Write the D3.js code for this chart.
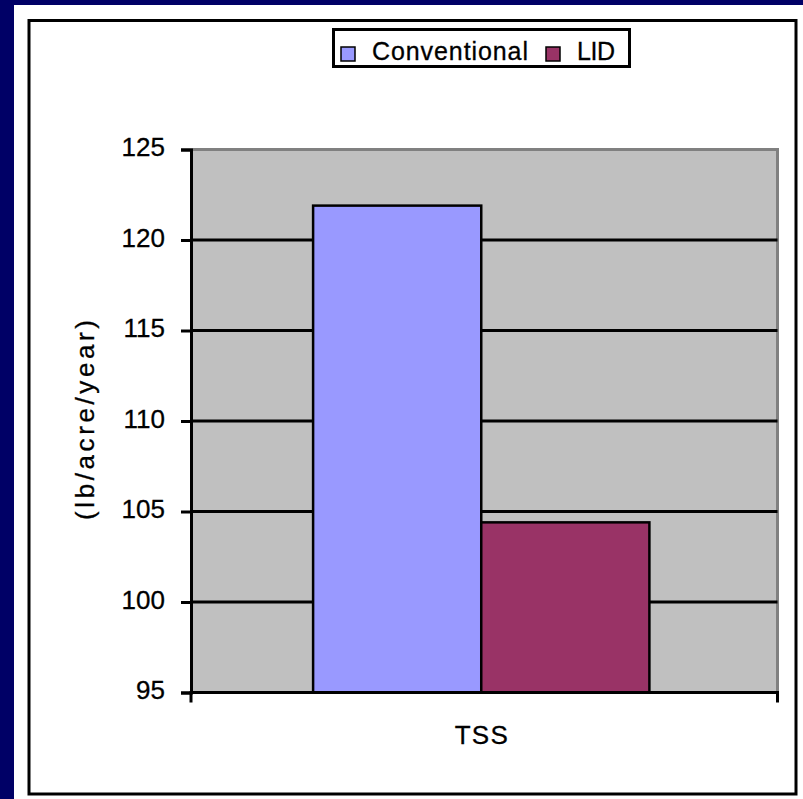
<!DOCTYPE html>
<html>
<head>
<meta charset="utf-8">
<script src="https://cdn.jsdelivr.net/npm/d3@7/dist/d3.min.js"></script>
<style>
  html, body { margin: 0; padding: 0; background: #ffffff; }
  svg { display: block; }
  text { font-family: "Liberation Sans", Arial, sans-serif; fill: #000; stroke: #000; stroke-width: 0.3px; }
</style>
</head>
<body>
<svg id="chart" width="803" height="799"></svg>
<script>
// Annual TSS load per acre, conventional vs. LID development
const categories = ["TSS"];
const seriesNames = ["Conventional", "LID"];
const conventionalValues = [121.9];
const lidValues = [104.4];
const yTicks = [95, 100, 105, 110, 115, 120, 125];
const yLabel = "(lb/acre/year)";
const colors = ["#9999FF", "#993366"];

const series = [conventionalValues, lidValues];
const rows = categories.map((c, i) => ({
  category: c,
  values: seriesNames.map((name, s) => ({ name, value: series[s][i], color: colors[s] }))
}));

const svg = d3.select("#chart");
const W = 803, H = 799;

// Slide frame and chart border
svg.append("rect").attr("x", 0).attr("y", 0).attr("width", W).attr("height", H).attr("fill", "#000066");
svg.append("rect").attr("x", 14).attr("y", 5).attr("width", W - 14).attr("height", H - 5).attr("fill", "#ffffff");
svg.append("rect").attr("x", 29).attr("y", 20.5).attr("width", 767).attr("height", 773.5)
  .attr("fill", "none").attr("stroke", "#000").attr("stroke-width", 3);

const plot = { left: 191, right: 777.5, top: 149.5, bottom: 692.5 };

const y = d3.scaleLinear().domain([95, 125]).range([plot.bottom, plot.top]);
const x0 = d3.scaleBand().domain(categories).range([plot.left, plot.right])
  .paddingInner(0).paddingOuter(0.372).align(0.488);
const x1 = d3.scaleBand().domain(seriesNames).range([0, x0.bandwidth()]).padding(0);

// Plot area
svg.append("rect").attr("x", plot.left).attr("y", plot.top)
  .attr("width", plot.right - plot.left).attr("height", plot.bottom - plot.top)
  .attr("fill", "#C0C0C0");
svg.append("path")
  .attr("d", `M${plot.left},${plot.top}H${plot.right}V${plot.bottom}`)
  .attr("fill", "none").attr("stroke", "#808080").attr("stroke-width", 3);

// Gridlines
svg.append("g").selectAll("line")
  .data(yTicks.filter(t => t !== 95 && t !== 125))
  .join("line")
  .attr("x1", plot.left).attr("x2", plot.right)
  .attr("y1", d => y(d)).attr("y2", d => y(d))
  .attr("stroke", "#000").attr("stroke-width", 3);

// Bars
const groups = svg.append("g").selectAll("g").data(rows).join("g")
  .attr("transform", d => `translate(${x0(d.category)},0)`);
groups.selectAll("rect").data(d => d.values).join("rect")
  .attr("x", d => x1(d.name))
  .attr("y", d => y(d.value))
  .attr("width", x1.bandwidth())
  .attr("height", d => y(95) - y(d.value))
  .attr("fill", d => d.color)
  .attr("stroke", "#000").attr("stroke-width", 2.5);

// Y axis
const yAxis = d3.axisLeft(y).tickValues(yTicks).tickSize(10).tickPadding(16);
const gy = svg.append("g").attr("transform", `translate(${plot.left},0)`).call(yAxis);
gy.select(".domain").attr("stroke", "#000").attr("stroke-width", 3);
gy.selectAll(".tick line").attr("stroke", "#000").attr("stroke-width", 3);
gy.selectAll(".tick text")
  .attr("dy", null).attr("y", 6)
  .style("font-size", "26px").style("font-family", "\"Liberation Sans\", Arial, sans-serif")
  .attr("fill", "#000");

// X axis
const xAxis = d3.axisBottom(x0).tickSize(0).tickPadding(0);
const gx = svg.append("g").attr("transform", `translate(0,${plot.bottom})`).call(xAxis);
gx.select(".domain").attr("stroke", "#000").attr("stroke-width", 3)
  .attr("d", `M${plot.left},10V0H${plot.right}V10`);
gx.selectAll(".tick text")
  .attr("dy", null).attr("y", 51)
  .attr("textLength", 53).attr("lengthAdjust", "spacing")
  .style("font-size", "26px").style("font-family", "\"Liberation Sans\", Arial, sans-serif")
  .attr("fill", "#000");

// Y axis title
svg.append("text")
  .attr("transform", "translate(94,420) rotate(-90)")
  .attr("text-anchor", "middle")
  .attr("textLength", 200).attr("lengthAdjust", "spacing")
  .style("font-size", "26px")
  .text(yLabel);

// Legend
const legend = svg.append("g");
legend.append("rect").attr("x", 333.5).attr("y", 29.5).attr("width", 296).attr("height", 37)
  .attr("fill", "#fff").attr("stroke", "#000").attr("stroke-width", 3);
const legendItems = [
  { name: seriesNames[0], color: colors[0], mx: 341, tx: 372, tw: 156 },
  { name: seriesNames[1], color: colors[1], mx: 546, tx: 577, tw: 38 }
];
legend.selectAll("rect.key").data(legendItems).join("rect").attr("class", "key")
  .attr("x", d => d.mx).attr("y", 47).attr("width", 14).attr("height", 14)
  .attr("fill", d => d.color).attr("stroke", "#000").attr("stroke-width", 1.5);
legend.selectAll("text").data(legendItems).join("text")
  .attr("x", d => d.tx).attr("y", 60)
  .attr("textLength", d => d.tw).attr("lengthAdjust", "spacing")
  .style("font-size", "25px")
  .text(d => d.name);
</script>
</body>
</html>
